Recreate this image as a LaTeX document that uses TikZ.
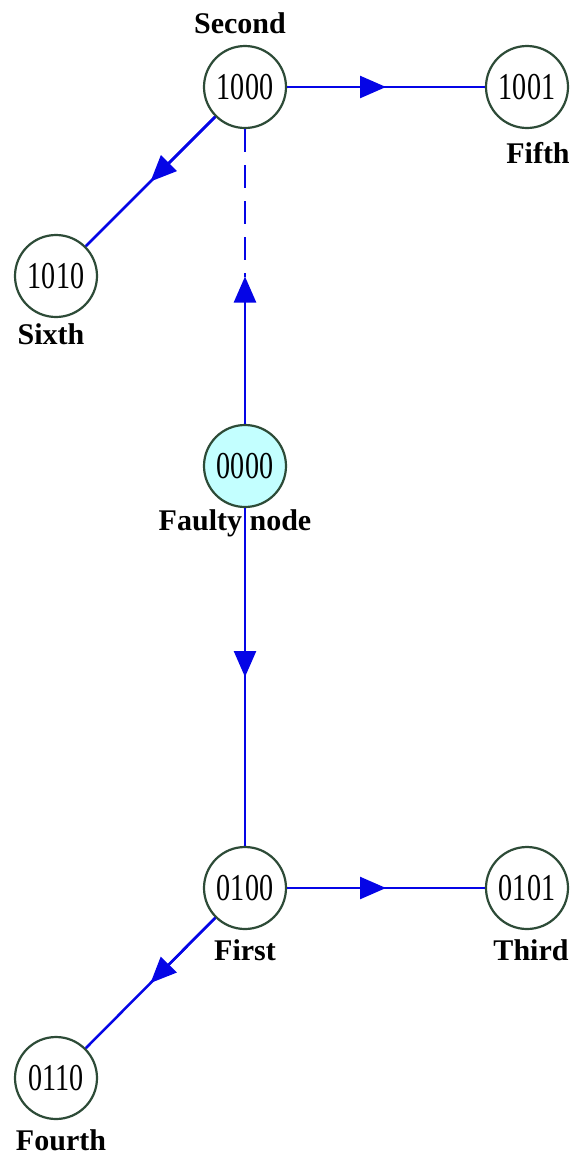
\documentclass[tikz,border=0pt]{standalone}
\usepackage{fontspec}
\setmainfont{Liberation Serif}
\newfontfamily\numfont{Liberation Serif}[FakeStretch=0.74]
\usetikzlibrary{arrows.meta,calc}
\definecolor{edgeblue}{RGB}{5,5,230}
\definecolor{ringgreen}{RGB}{45,75,55}
\definecolor{faultcyan}{RGB}{195,255,255}
\tikzset{
  vert/.style={circle,draw=ringgreen,line width=2.2pt,minimum size=82pt,inner sep=0pt,fill=white,
    font=\numfont\fontsize{38}{40}\selectfont},
  faulty/.style={vert,fill=faultcyan},
  lbl/.style={anchor=base,inner sep=0pt,font=\bfseries\fontsize{30}{34}\selectfont},
  edge/.style={draw=edgeblue,line width=2.5pt},
  arr/.style={edge,-{Triangle[length=26pt,width=22pt,fill=edgeblue]}},
  dashedge/.style={edge,dash pattern=on 23pt off 13pt}
}
\begin{document}
\begin{tikzpicture}[x=1pt,y=1pt]
\useasboundingbox (0,0) rectangle (573,-1157);
% vertices
\node[vert] (n1000) at (245,-87) {1000};
\node[vert] (n1001) at (527,-87) {1001};
\node[vert] (n1010) at (56,-276) {1010};
\node[faulty] (n0000) at (245,-466) {0000};
\node[vert] (n0100) at (245,-888) {0100};
\node[vert] (n0101) at (527,-888) {0101};
\node[vert] (n0110) at (56,-1078) {0110};
% labels
\node[lbl] (lSecond) at (240,-33) {Second};
\node[lbl] (lFifth) at (538,-163) {Fifth};
\node[lbl] (lSixth) at (51,-344) {Sixth};
\node[lbl] (lFaulty) at (235,-530) {Faulty node};
\node[lbl] (lFirst) at (245,-960) {First};
\node[lbl] (lThird) at (531,-960) {Third};
\node[lbl] (lFourth) at (61,-1150) {Fourth};
% midpoints
\coordinate (mA) at ($(n1000.east)!0.5!(n1001.west)$);
\coordinate (mB) at ($(n1000.225)!0.5!(n1010.45)$);
\coordinate (mC) at ($(n0000.north)!0.5!(n1000.south)$);
\coordinate (mD) at ($(n0000.south)!0.5!(n0100.north)$);
\coordinate (mE) at ($(n0100.east)!0.5!(n0101.west)$);
\coordinate (mF) at ($(n0100.225)!0.5!(n0110.45)$);
% edges
\draw[edge] (n1000.east) -- (n1001.west);
\draw[arr] (n1000.east) -- (mA);
\draw[edge] (n1000.225) -- (n1010.45);
\draw[arr] (n1000.225) -- (mB);
\draw[dashedge] (n1000.south) -- (mC);
\draw[arr] (n0000.north) -- (mC);
\draw[edge] (n0000.south) -- (n0100.north);
\draw[arr] (n0000.south) -- (mD);
\draw[edge] (n0100.east) -- (n0101.west);
\draw[arr] (n0100.east) -- (mE);
\draw[edge] (n0100.225) -- (n0110.45);
\draw[arr] (n0100.225) -- (mF);
\end{tikzpicture}
\end{document}
